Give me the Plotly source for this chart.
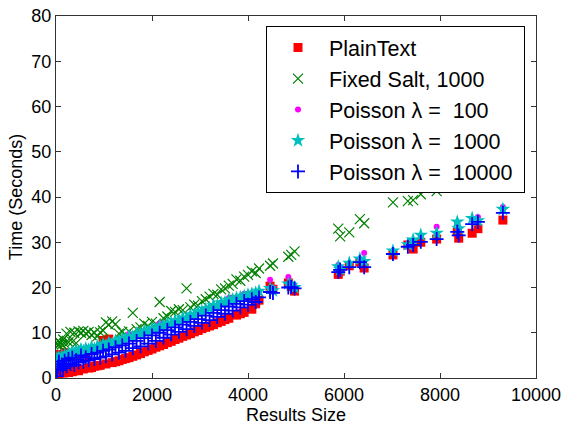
import plotly.graph_objects as go

# Shared result sizes (x values)
results_size = [20, 40, 60, 90, 120, 150, 180, 220, 260, 300,
                340, 380, 420, 470, 520, 570, 620, 680, 740, 800,
                860, 920, 980, 1040, 1100, 1170, 1240, 1310, 1380, 1450,
                1520, 1600, 1680, 1760, 1840, 1920, 2000, 2080, 2160, 2240,
                2320, 2400, 2480, 2560, 2640, 2720, 2800, 2880, 2960, 3040,
                3120, 3200, 3280, 3360, 3440, 3520, 3600, 3680, 3760, 3840,
                3920, 4000, 4080, 4160, 4230,
                4460, 4520, 4840, 4900, 4970, 5880, 5920, 6110, 6330, 6420,
                7020, 7330, 7440, 7600, 7930, 8360, 8390, 8670, 8790, 9310]

plain_text = [1.0, 5.2, 0.9, 1.2, 4.8, 1.1, 5.6, 1.3, 1.2, 1.5,
              1.4, 1.6, 1.8, 1.6, 5.0, 2.0, 4.9, 2.2, 2.3, 2.6,
              2.7, 2.8, 8.3, 3.1, 8.6, 3.4, 3.6, 3.8, 4.1, 4.3,
              4.5, 4.8, 5.1, 5.4, 5.8, 6.1, 6.4, 6.8, 7.1, 7.4,
              7.8, 8.1, 8.5, 8.8, 9.2, 9.5, 9.8, 10.2, 10.5, 10.9,
              11.2, 11.5, 11.8, 12.2, 12.5, 12.9, 13.2, 17.4, 13.9, 14.2,
              14.5, 18.2, 15.2, 16.4, 17.2,
              20.3, 19.6, 21.0, 20.2, 19.2, 22.9, 23.6, 24.8, 25.6, 24.3,
              27.2, 29.4, 28.5, 30.0, 30.7, 32.3, 30.9, 32.0, 33.0, 34.9]

fixed_salt_1000 = [7.5, 8.2, 7.3, 7.8, 7.4, 8.5, 7.6, 9.8, 7.9, 10.2,
                   8.0, 10.0, 7.7, 10.3, 10.0, 10.4, 9.8, 10.2, 9.5, 10.0,
                   9.2, 10.1, 10.5, 12.3, 11.8, 12.5, 11.9, 9.8, 10.2, 9.6,
                   10.3, 14.4, 10.8, 11.2, 12.0, 11.5, 12.4, 12.0, 16.8, 13.2,
                   13.6, 14.8, 14.6, 15.2, 15.0, 19.8, 15.6, 16.2, 16.0, 17.0,
                   17.4, 18.0, 18.6, 18.4, 19.6, 19.8, 20.4, 20.8, 21.8, 21.5,
                   22.4, 22.8, 23.6, 23.2, 24.2,
                   24.8, 25.3, 26.8, 27.2, 28.0, 33.0, 31.3, 32.2, 35.1, 34.2,
                   38.8, 39.1, 39.3, 40.6, 41.3, 43.5, 43.8, 45.0, 45.5, 47.5]

poisson_100 = [3.8, 4.8, 4.6, 3.5, 4.2, 3.9, 4.7, 4.4, 4.9, 4.6,
               5.2, 5.0, 5.5, 5.2, 5.8, 4.7, 6.0, 5.9, 6.3, 6.1,
               6.6, 6.5, 7.5, 6.9, 7.3, 7.2, 7.7, 7.8, 8.2, 8.3,
               9.7, 8.8, 9.4, 9.3, 10.0, 9.9, 10.5, 10.4, 12.1, 11.0,
               11.6, 11.7, 12.2, 12.8, 12.9, 12.8, 13.5, 13.6, 14.2, 14.3,
               14.9, 15.5, 15.6, 15.7, 16.3, 16.4, 17.7, 17.0, 17.4, 17.5,
               18.6, 18.1, 18.4, 18.5, 18.9,
               21.7, 19.9, 22.3, 20.8, 20.3, 25.0, 24.3, 25.2, 26.0, 27.6,
               28.0, 29.2, 30.2, 31.4, 33.4, 34.2, 32.6, 35.0, 35.6, 37.8]

poisson_1000 = [4.3, 3.2, 4.6, 4.0, 4.8, 4.2, 5.0, 4.6, 5.3, 5.0,
                5.7, 5.2, 6.0, 5.6, 6.3, 5.9, 6.5, 6.2, 6.8, 6.4,
                7.0, 6.9, 7.4, 7.2, 7.8, 7.6, 8.2, 8.1, 8.6, 8.7,
                9.2, 9.1, 9.8, 9.7, 10.4, 10.2, 10.9, 10.8, 11.5, 11.4,
                12.0, 12.1, 12.6, 12.7, 13.3, 13.2, 13.9, 14.0, 14.6, 14.7,
                15.2, 15.4, 16.0, 16.0, 16.6, 16.7, 17.2, 17.3, 17.7, 17.8,
                18.1, 18.4, 18.6, 18.8, 19.2,
                19.8, 19.3, 20.8, 20.5, 20.0, 24.6, 24.0, 25.4, 26.3, 25.8,
                28.1, 29.5, 30.5, 31.6, 32.0, 34.5, 33.0, 35.3, 34.8, 37.3]

poisson_10000 = [0.4, 2.5, 3.6, 1.8, 3.0, 2.2, 3.8, 2.6, 4.2, 3.1,
                 4.5, 2.9, 4.0, 3.4, 5.0, 3.6, 4.6, 3.9, 5.3, 4.2,
                 5.6, 4.5, 6.0, 4.8, 6.3, 5.2, 6.8, 5.6, 7.2, 6.0,
                 7.6, 6.6, 8.2, 7.0, 8.8, 7.6, 9.4, 8.2, 10.0, 8.9,
                 10.6, 9.6, 11.2, 10.2, 11.8, 10.8, 12.4, 11.5, 13.0, 12.2,
                 13.8, 12.8, 14.4, 13.5, 15.0, 14.2, 15.8, 14.9, 16.4, 15.6,
                 17.0, 16.2, 17.4, 16.8, 17.8,
                 19.0, 18.8, 20.0, 20.1, 19.8, 23.4, 23.9, 24.5, 25.6, 24.5,
                 27.4, 29.0, 29.4, 30.1, 30.7, 32.3, 31.5, 34.0, 34.5, 36.5]

x_ticks = [0, 2000, 4000, 6000, 8000, 10000]
y_ticks = [0, 10, 20, 30, 40, 50, 60, 70, 80]

NB = "\u00a0"
series = [
    ("PlainText", plain_text, dict(symbol="square", size=9, color="#ff0000", line=dict(width=0))),
    ("Fixed Salt, 1000", fixed_salt_1000, dict(symbol="x-thin", size=10, color="#008000",
                                               line=dict(color="#008000", width=1.2))),
    ("Poisson λ =" + NB + " 100", poisson_100, dict(symbol="circle", size=6, color="#ff00ff", line=dict(width=0))),
    ("Poisson λ =" + NB + " 1000", poisson_1000, dict(symbol="star", size=11, color="#00bfbf", line=dict(width=0))),
    ("Poisson λ =" + NB + " 10000" + NB, poisson_10000, dict(symbol="cross-thin", size=10, color="#0000ff",
                                                             line=dict(color="#0000ff", width=1.8))),
]

fig = go.Figure()
for i, (name, ys, mk) in enumerate(series):
    fig.add_trace(go.Scatter(x=results_size, y=ys, mode="markers", name=name,
                             marker=mk, legendgroup=str(i)))

font_family = "Liberation Sans, Arial, sans-serif"
axis_common = dict(showgrid=False, zeroline=False, showline=True, linecolor="#333333", linewidth=1,
                   mirror="ticks", ticks="inside", ticklen=5, tickcolor="#333333",
                   automargin=False, ticklabeloverflow="allow",
                   tickfont=dict(size=18, color="black", family=font_family))

fig.update_layout(
    width=561, height=425,
    margin=dict(l=56, r=25, t=16, b=47),
    paper_bgcolor="white", plot_bgcolor="white",
    font=dict(family=font_family, color="black"),
    showlegend=True,
    legend=dict(x=0.4375, y=0.972, xanchor="left", yanchor="top",
                bgcolor="white", bordercolor="black", borderwidth=1,
                font=dict(size=21.5, family=font_family, color="black"),
                tracegroupgap=0, itemwidth=52),
    xaxis=dict(range=[0, 10000], tickvals=x_ticks, ticktext=[str(v) for v in x_ticks],
               title=dict(text="Results Size", font=dict(size=18), standoff=0), **axis_common),
    yaxis=dict(range=[0, 80], tickvals=y_ticks, ticktext=[str(v) for v in y_ticks],
               title=dict(text="Time (Seconds)", font=dict(size=18), standoff=4), **axis_common),
)

fig.write_html("out.html", config={"displayModeBar": False},
               post_script="document.body.style.margin='0';document.body.style.overflow='hidden';")
